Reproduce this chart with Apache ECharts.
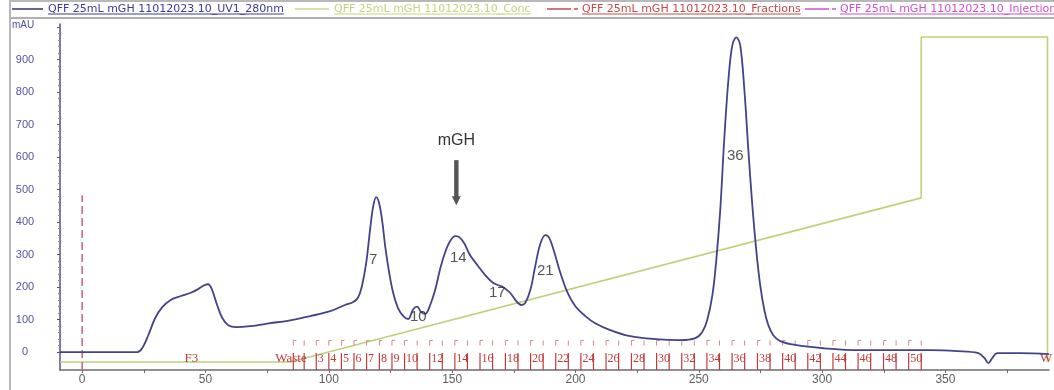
<!DOCTYPE html>
<html>
<head>
<meta charset="utf-8">
<script src="https://cdn.jsdelivr.net/npm/echarts@6/dist/echarts.min.js"></script>
<style>
html, body { margin: 0; padding: 0; background: #ffffff; }
#chart { width: 1054px; height: 390px; }
</style>
</head>
<body>
<div id="chart"></div>
<script>
// UV 280 nm trace: elution volume (mL) and absorbance (mAU)
const uvVolume = [-9, 0, 22.3, 24.3, 26.8, 29.6, 32.4, 35.7, 39.7, 43.8,
  47.0, 49.5, 51.1, 52.7, 54.7, 56.8, 59.2, 62.4, 68.1, 76.2,
  84.3, 92.5, 100.6, 106.6, 109.9, 111.9, 113.5, 115.2, 116.8, 118.0,
  119.2, 120.4, 121.7, 122.9, 124.5, 126.1, 128.1, 130.2, 132.2, 134.2,
  135.8, 137.5, 139.1, 141.1, 143.1, 145.2, 147.2, 149.2, 151.3, 152.9,
  154.9, 157.3, 160.2, 163.4, 166.3, 168.7, 170.7, 173.6, 176.0, 178.0,
  179.6, 181.7, 183.7, 185.7, 187.8, 189.4, 191.4, 193.8, 196.7, 199.9,
  204.0, 208.0, 214.1, 222.2, 232.4, 242.5, 248.6, 251.4, 253.4, 255.5,
  257.1, 258.7, 260.3, 262.0, 263.6, 265.2, 266.8, 268.5, 270.1, 271.7,
  273.3, 274.9, 276.6, 278.2, 280.2, 283.0, 289.1, 300.5, 315.5, 331.7,
  343.9, 354.8, 363.3, 365.8, 367.4, 369.0, 371.0, 380.4, 392];
const uvAbs = [0, 0, 0, 12, 52, 105, 138, 160, 172, 182,
  194, 206, 209, 191, 145, 105, 83, 77, 80, 89,
  98, 111, 126, 145, 154, 169, 206, 277, 382, 449,
  477, 458, 400, 323, 243, 182, 135, 111, 102, 132,
  140, 123, 118, 145, 191, 258, 308, 342, 357, 354,
  335, 298, 268, 237, 215, 206, 200, 182, 157, 145,
  151, 191, 265, 332, 360, 351, 308, 246, 185, 142,
  111, 89, 68, 49, 40, 37, 43, 62, 98, 175,
  283, 437, 652, 837, 945, 969, 945, 806, 622, 452,
  314, 206, 129, 83, 52, 34, 22, 12, 6, 6,
  6, 3, -3, -18, -34, -18, -3, -3, -6];

// Gradient concentration (%B)
const concVolume = [-9, 84.3, 340.2, 340.2, 391.4, 391.4];
const concPercent = [0, 0, 50.5, 100, 100, 0];

// Fraction boundaries (mL) and their printed numbers
const fractionStart = [85.6, 90.0, 94.9, 100.0, 105.1, 110.2, 115.3, 120.5, 125.6, 130.7,
  135.8, 140.9, 146.0, 151.1, 156.2, 161.3, 166.4, 171.6, 176.7, 181.8,
  186.9, 192.0, 197.1, 202.2, 207.3, 212.4, 217.5, 222.7, 227.8, 232.9,
  238.0, 243.1, 248.2, 253.3, 258.4, 263.5, 268.6, 273.8, 278.9, 284.0,
  289.1, 294.2, 299.3, 304.4, 309.5, 314.6, 319.7, 324.9, 330.0, 335.1, 340.2];
const fractionLabel = ['', '', '3', '4', '5', '6', '7', '8', '9', '10',
  '', '12', '', '14', '', '16', '', '18', '', '20',
  '', '22', '', '24', '', '26', '', '28', '', '30',
  '', '32', '', '34', '', '36', '', '38', '', '40',
  '', '42', '', '44', '', '46', '', '48', '', '50', ''];

// Named fraction regions
const regionText = ['F3', 'Waste', 'W'];
const regionVolume = [41.5, 78.3, 388.4];

// Injection mark
const injectionVolume = 0;

// Peak fraction numbers
const peakText = ['7', '10', '14', '17', '21', '36'];
const peakVolume = [118.0, 136.3, 152.5, 168.3, 187.8, 264.8];
const peakAbs = [283, 108, 289, 182, 249, 603];

// Target protein annotation
const targetName = 'mGH';
const targetVolume = 151.7;
const targetAbs = [652, 591, 452]; // text, arrow tail, arrow tip

// Axis ticks
const xLabelValues = [0, 50, 100, 150, 200, 250, 300, 350];
const xTickValues = [0, 25, 50, 75, 100, 125, 150, 175, 200, 225, 250, 275, 300, 325, 350, 375];
const yLabelValues = [0, 100, 200, 300, 400, 500, 600, 700, 800, 900];
const yTickValues = [0, 100, 200, 300, 400, 500, 600, 700, 800, 900, 1000];
const yMinorValues = [20, 40, 60, 80, 120, 140, 160, 180, 220, 240, 260, 280, 320, 340, 360, 380,
  420, 440, 460, 480, 520, 540, 560, 580, 620, 640, 660, 680, 720, 740, 760, 780,
  820, 840, 860, 880, 920, 940, 960, 980];

const legendNames = ['QFF 25mL mGH 11012023.10_UV1_280nm', 'QFF 25mL mGH 11012023.10_Conc',
  'QFF 25mL mGH 11012023.10_Fractions', 'QFF 25mL mGH 11012023.10_Injections'];

const X_MIN = -9, X_MAX = 392;
const Y_MIN = -55, Y_MAX = 1010;
const C_MIN = -2.46, C_MAX = 104;

const uvData = uvVolume.map((v, i) => [v, uvAbs[i]]);
const concData = concVolume.map((v, i) => [v, concPercent[i]]);

// Legend strip across the top
const legendStyle = [
  { line: '#34346a', text: '#3a3aa0', x: 12, len: 31, dash: false },
  { line: '#c9d98a', text: '#c4d47c', x: 295, len: 34, dash: false },
  { line: '#c84848', text: '#c84848', x: 547, len: 24, dash: true },
  { line: '#d050d0', text: '#d050d0', x: 805, len: 24, dash: true }
];
const legendFont = '11px "DejaVu Sans", sans-serif';
const measureCtx = document.createElement('canvas').getContext('2d');
measureCtx.font = legendFont;

const graphics = [
  { type: 'line', shape: { x1: 10, y1: 0, x2: 10, y2: 390 }, style: { stroke: '#b8b8b8', lineWidth: 2 } },
  { type: 'line', shape: { x1: 10, y1: 1, x2: 1054, y2: 1 }, style: { stroke: '#b8b8b8', lineWidth: 2 } },
  { type: 'line', shape: { x1: 10, y1: 18, x2: 1054, y2: 18 }, style: { stroke: '#b0b0b0', lineWidth: 2 } },
  { type: 'text', x: 12, y: 25, style: { text: 'mAU', fill: '#5050a0', font: '10px "Liberation Sans", Arial, sans-serif', verticalAlign: 'middle' } }
];
legendNames.forEach((name, i) => {
  const s = legendStyle[i];
  const y = 9;
  graphics.push({ type: 'line', shape: { x1: s.x, y1: y, x2: s.x + s.len, y2: y }, style: { stroke: s.line, lineWidth: 1.5 } });
  let tx = s.x + s.len + 5;
  if (s.dash) {
    graphics.push({ type: 'line', shape: { x1: s.x + s.len + 3, y1: y, x2: s.x + s.len + 7, y2: y }, style: { stroke: s.line, lineWidth: 1.5 } });
    tx = s.x + s.len + 11;
  }
  const w = measureCtx.measureText(name).width;
  graphics.push({ type: 'text', x: tx, y: y, style: { text: name, fill: s.text, font: legendFont, verticalAlign: 'middle' } });
  graphics.push({ type: 'line', shape: { x1: tx, y1: y + 5, x2: tx + w, y2: y + 5 }, style: { stroke: s.text, lineWidth: 1 } });
});

const chart = echarts.init(document.getElementById('chart'), null, { renderer: 'canvas' });

const serifFont = '12px "Liberation Serif", "DejaVu Serif", serif';

chart.setOption({
  animation: false,
  backgroundColor: '#ffffff',
  grid: { left: 60, right: 5, top: 24, bottom: 20, containLabel: false },
  xAxis: {
    type: 'value', min: X_MIN, max: X_MAX,
    axisLine: { onZero: false, lineStyle: { color: '#6c6c6c', width: 1.5 } },
    axisTick: { show: true, length: 3, customValues: xTickValues, lineStyle: { color: '#6c6c6c' } },
    axisLabel: { customValues: xLabelValues, color: '#5e5e5e', fontSize: 12, margin: 4,
      fontFamily: '"Liberation Sans", Arial, sans-serif' },
    splitLine: { show: false }
  },
  yAxis: [
    {
      type: 'value', min: Y_MIN, max: Y_MAX, position: 'left',
      axisLine: { onZero: false, lineStyle: { color: '#55557c', width: 1.5 } },
      axisTick: { show: true, length: 3, customValues: yTickValues, lineStyle: { color: '#55557c' } },
      axisLabel: { customValues: yLabelValues, color: '#5353a5', fontSize: 11, align: 'center', margin: 35,
        fontFamily: '"Liberation Sans", Arial, sans-serif' },
      splitLine: { show: false }
    },
    {
      type: 'value', min: Y_MIN, max: Y_MAX, position: 'left',
      axisLine: { show: false, onZero: false },
      axisTick: { show: true, length: 2, customValues: yMinorValues, lineStyle: { color: '#8a8aa8' } },
      axisLabel: { show: false },
      splitLine: { show: false }
    },
    {
      type: 'value', min: C_MIN, max: C_MAX, show: false,
      axisLine: { onZero: false }, splitLine: { show: false }
    }
  ],
  graphic: graphics,
  series: [
    {
      name: legendNames[1], type: 'line', yAxisIndex: 2, data: concData,
      showSymbol: false, symbol: 'none', smooth: false, clip: false,
      lineStyle: { color: '#bcd27a', width: 1.6 }, z: 2
    },
    {
      name: legendNames[3], type: 'line', yAxisIndex: 0,
      data: [[injectionVolume, Y_MIN], [injectionVolume, 483]],
      showSymbol: false, symbol: 'none',
      lineStyle: { color: '#c8607e', width: 1.5, type: [8, 4] }, z: 3
    },
    {
      name: legendNames[2], type: 'custom', yAxisIndex: 0,
      data: fractionStart.map(v => [v]),
      encode: { x: 0 },
      clip: false,
      renderItem: function (params, api) {
        const x = api.value(0);
        const i = params.dataIndex;
        const b = api.coord([x, Y_MIN]);
        const t = api.coord([x, -3]);
        const m0 = api.coord([x, 36]);
        const m1 = api.coord([x, 20]);
        const lab = api.coord([x, -20]);
        const children = [
          { type: 'line', shape: { x1: b[0], y1: b[1], x2: t[0], y2: t[1] }, style: { stroke: '#c43a3a', lineWidth: 1.2 } },
          { type: 'line', shape: { x1: m0[0], y1: m0[1], x2: m1[0], y2: m1[1] }, style: { stroke: '#d08a8a', lineWidth: 1 } }
        ];
        if (fractionLabel[i] !== '' || i === 0) {
          children.push({ type: 'line', shape: { x1: m0[0], y1: m0[1], x2: m0[0] + 3, y2: m0[1] }, style: { stroke: '#d08a8a', lineWidth: 1 } });
        }
        if (fractionLabel[i] !== '') {
          children.push({ type: 'text', x: lab[0] + 1.5, y: lab[1],
            style: { text: fractionLabel[i], fill: '#c43a3a', font: serifFont, verticalAlign: 'middle' } });
        }
        return { type: 'group', children: children };
      },
      z: 4
    },
    {
      type: 'custom', yAxisIndex: 0,
      data: regionVolume.map(v => [v]),
      encode: { x: 0 },
      clip: false,
      renderItem: function (params, api) {
        const p = api.coord([api.value(0), -20]);
        return { type: 'text', x: p[0], y: p[1],
          style: { text: regionText[params.dataIndex], fill: '#c43a3a', font: '13px "Liberation Serif", "DejaVu Serif", serif', verticalAlign: 'middle' } };
      },
      z: 4
    },
    {
      name: legendNames[0], type: 'line', yAxisIndex: 0, data: uvData,
      showSymbol: false, symbol: 'none', smooth: 0.35, clip: true,
      lineStyle: { color: '#43438c', width: 1.8 }, z: 5
    },
    {
      type: 'scatter', yAxisIndex: 0,
      data: peakVolume.map((v, i) => [v, peakAbs[i], peakText[i]]),
      symbolSize: 0,
      label: { show: true, position: 'inside', formatter: p => p.value[2], color: '#2a2a2a',
        fontSize: 15, fontFamily: '"Liberation Sans", Arial, sans-serif' },
      z: 6
    },
    {
      type: 'custom', yAxisIndex: 0,
      data: [[targetVolume, targetAbs[0], targetAbs[1], targetAbs[2]]],
      encode: { x: 0, y: 1 },
      clip: false,
      renderItem: function (params, api) {
        const x = api.value(0);
        const txt = api.coord([x, api.value(1)]);
        const tail = api.coord([x, api.value(2)]);
        const tip = api.coord([x, api.value(3)]);
        return { type: 'group', children: [
          { type: 'text', x: txt[0], y: txt[1],
            style: { text: targetName, fill: '#333333', font: '16px "Liberation Sans", Arial, sans-serif', align: 'center', verticalAlign: 'middle' } },
          { type: 'rect', shape: { x: tail[0] - 2.2, y: tail[1], width: 4.4, height: tip[1] - tail[1] - 8 },
            style: { fill: '#555555' } },
          { type: 'polygon', shape: { points: [[tip[0] - 4.5, tip[1] - 9], [tip[0] + 4.5, tip[1] - 9], [tip[0], tip[1]]] },
            style: { fill: '#555555' } }
        ] };
      },
      z: 6
    }
  ]
});
</script>
</body>
</html>
